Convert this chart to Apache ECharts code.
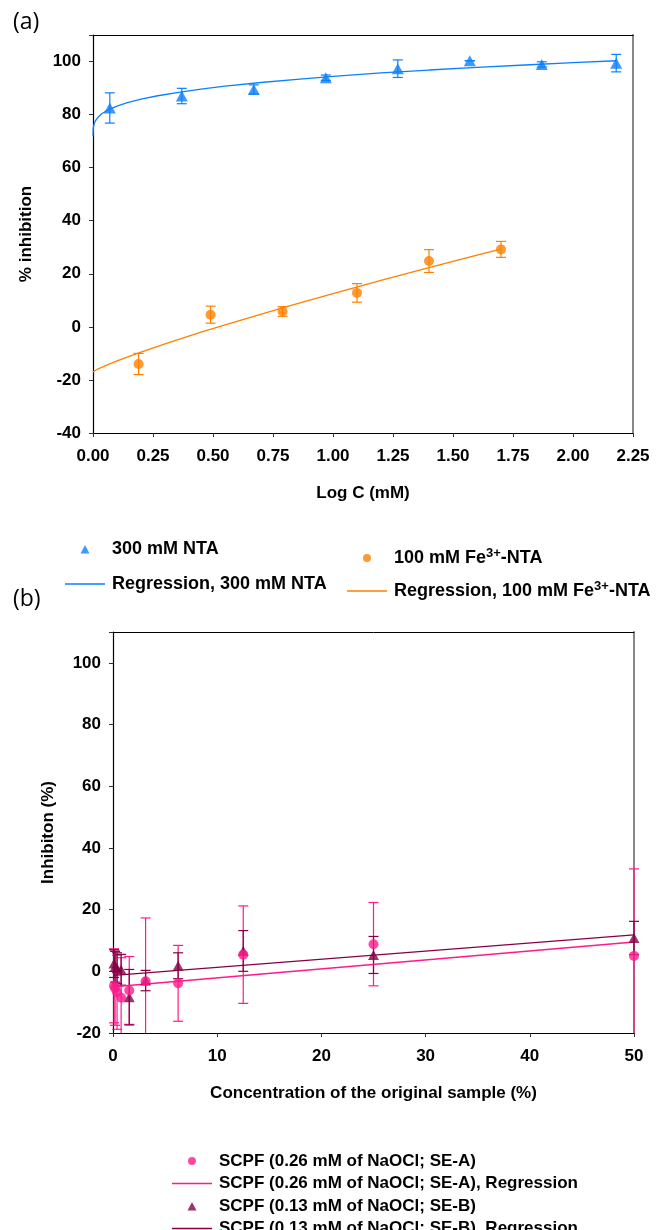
<!DOCTYPE html>
<html>
<head>
<meta charset="utf-8">
<script src="https://cdn.jsdelivr.net/npm/echarts@6/dist/echarts.min.js"></script>
<style>
  html, body { margin: 0; padding: 0; background: #fff; }
  #chart { width: 662px; height: 1230px; }
</style>
</head>
<body>
<div id="chart"></div>
<script>
// panel (a) - % inhibition vs Log C
var ntaX = [0.07, 0.37, 0.67, 0.97, 1.27, 1.57, 1.87, 2.18];
var ntaY = [82.5, 87, 89.5, 93.9, 97.3, 100.3, 98.9, 99.4];
var ntaErr = [5.7, 2.9, 1.7, 1, 3.3, 0, 1, 3.3];
// regression curve
var ntaFitX = [0, 0.001, 0.003, 0.006, 0.01, 0.02, 0.035, 0.05, 0.07, 0.1, 0.14, 0.2, 0.27, 0.35, 0.45, 0.55, 0.7, 0.85, 1.0, 1.2, 1.4, 1.6, 1.8, 2.0, 2.18];
var ntaFitY = [72, 74.8, 75.9, 76.8, 77.6, 78.9, 80.2, 81.1, 82.1, 83.2, 84.4, 85.8, 87.1, 88.3, 89.6, 90.7, 92.1, 93.3, 94.4, 95.7, 96.8, 97.8, 98.7, 99.6, 100.3];

var feX = [0.19, 0.49, 0.79, 1.1, 1.4, 1.7];
var feY = [-14, 4.6, 5.8, 12.8, 24.8, 29.2];
var feErr = [4, 3.2, 1.8, 3.5, 4.3, 3];
var feFitX = [0, 0.02, 0.05, 0.1, 0.2, 0.3, 0.45, 0.6, 0.8, 1.0, 1.2, 1.4, 1.6, 1.7];
var feFitY = [-17, -15.9, -14.7, -12.8, -9.5, -6.4, -2.0, 2.1, 7.4, 12.5, 17.5, 22.3, 27.0, 29.3];

// panel (b) - inhibition vs concentration of the original sample
var concX = [0.1, 0.2, 0.39, 0.78, 1.56, 3.13, 6.25, 12.5, 25, 50];
var seaY = [-4.7, -5.5, -6.8, -8.6, -6.2, -3.2, -3.9, 5.4, 8.8, 5];
var seaErr = [12, 12, 12, 13, 11, 20.5, 12.3, 15.8, 13.5, 28.2];
var sebY = [2.5, 1.5, 1.0, 0.5, -8.4, -3, 1.8, 6.6, 5.3, 10.8];
var sebErr = [4.5, 5, 5, 5, 9, 3.3, 4.2, 6.6, 6, 5.4];
var seaFitX = [0.1, 50];
var seaFitY = [-5, 9.5];
var sebFitX = [0.1, 50];
var sebFitY = [-1.3, 11.8];

var xTicksA = [0, 2.25, 0.25];
var yTicksA = [-40, 110, 20];
var xTicksB = [0, 50, 10];
var yTicksB = [-20, 110, 20];

var BLUE = '#0a80ff', ORANGE = '#ff8000', PINK = '#ff1a8c', MAROON = '#850045';
var FONT = '"Liberation Sans", Arial, sans-serif';
// legend icons inside a 40x10 box (leading/trailing moves keep the box size)
var ICON_LINE = 'path://M0,0M0,4.3L40,4.3L40,5.7L0,5.7ZM40,10';
var ICON_TRI = 'path://M0,0M15.5,9.5L20,1L24.5,9.5ZM40,10';
var ICON_DOT = 'path://M0,0M40,10M20,1A4,4,0,1,1,19.99,1Z';

function pairs(xs, ys) {
    return xs.map(function (x, i) { return [x, ys[i]]; });
}
function errData(xs, ys, es) {
    return xs.map(function (x, i) { return [x, ys[i] - es[i], ys[i] + es[i]]; });
}

// error bar with caps, clipped to the grid
function errRender(color) {
    return function (params, api) {
        var cs = params.coordSys;
        var lo = api.coord([api.value(0), api.value(1)]);
        var hi = api.coord([api.value(0), api.value(2)]);
        var top = cs.y, bot = cs.y + cs.height;
        var x = lo[0], w = 5;
        var y1 = Math.min(Math.max(hi[1], top), bot);
        var y2 = Math.min(Math.max(lo[1], top), bot);
        var st = { stroke: color, lineWidth: 1.2 };
        var kids = [{ type: 'line', shape: { x1: x, y1: y1, x2: x, y2: y2 }, style: st }];
        if (hi[1] >= top && hi[1] <= bot) kids.push({ type: 'line', shape: { x1: x - w, y1: hi[1], x2: x + w, y2: hi[1] }, style: st });
        if (lo[1] >= top && lo[1] <= bot) kids.push({ type: 'line', shape: { x1: x - w, y1: lo[1], x2: x + w, y2: lo[1] }, style: st });
        return { type: 'group', children: kids };
    };
}

function valAxis(idx, t, pos, fmt) {
    return {
        type: 'value', gridIndex: idx, min: t[0], max: t[1], interval: t[2], position: pos,
        axisLine: { show: true, onZero: false, lineStyle: { color: '#000', width: 1.2 } },
        axisTick: { show: true, inside: false, length: 4, lineStyle: { color: '#333' } },
        axisLabel: { color: '#000', fontFamily: FONT, fontWeight: 'bold', fontSize: 17, formatter: fmt },
        splitLine: { show: false },
        nameTextStyle: { color: '#000', fontFamily: FONT, fontWeight: 'bold', fontSize: 17 }
    };
}
function frameAxis(idx, t, pos, color, w) {
    return {
        type: 'value', gridIndex: idx, min: t[0], max: t[1], interval: t[2], position: pos,
        axisLine: { show: true, onZero: false, lineStyle: { color: color, width: w } },
        axisTick: { show: false }, axisLabel: { show: false }, splitLine: { show: false }
    };
}
function hideTop(v) { return v > 100 ? '' : v; }

var xa = valAxis(0, xTicksA, 'bottom', function (v) { return v.toFixed(2); });
xa.name = 'Log C (mM)'; xa.nameLocation = 'middle'; xa.nameGap = 52; xa.axisLabel.margin = 15;
var ya = valAxis(0, yTicksA, 'left', hideTop);
ya.name = '% inhibition'; ya.nameLocation = 'middle'; ya.nameGap = 58; ya.axisLabel.margin = 12;
var xb = valAxis(1, xTicksB, 'bottom', function (v) { return v; });
xb.name = 'Concentration of the original sample (%)'; xb.nameLocation = 'middle'; xb.nameGap = 52; xb.axisLabel.margin = 15;
var yb = valAxis(1, yTicksB, 'left', hideTop);
yb.name = 'Inhibiton (%)'; yb.nameLocation = 'middle'; yb.nameGap = 56; yb.axisLabel.margin = 12;

function legendText(size) {
    return { color: '#000', fontFamily: FONT, fontWeight: 'bold', fontSize: size, lineHeight: 20, padding: [0, 0, 0, 2],
        rich: { sup: { fontFamily: FONT, fontWeight: 'bold', fontSize: 13, padding: [0, 0, 9, 0] } } };
}

var chart = echarts.init(document.getElementById('chart'), null, { renderer: 'canvas' });
var option = {
    animation: false,
    backgroundColor: '#fff',
    title: [
        { text: '(a)', left: 8, top: 6, textStyle: { fontFamily: '"Open Sans", sans-serif', fontWeight: 'normal', fontSize: 23, color: '#000' } },
        { text: '(b)', left: 8, top: 583, textStyle: { fontFamily: '"Open Sans", sans-serif', fontWeight: 'normal', fontSize: 23, color: '#000' } }
    ],
    grid: [
        { left: 93, right: 29, top: 35, height: 398 },
        { left: 113, right: 28, top: 632, height: 401 }
    ],
    xAxis: [xa, xb, frameAxis(0, xTicksA, 'top', '#000', 1), frameAxis(1, xTicksB, 'top', '#000', 1)],
    yAxis: [ya, yb, frameAxis(0, yTicksA, 'right', '#888', 2), frameAxis(1, yTicksB, 'right', '#888', 2)],
    legend: [
        { orient: 'vertical', left: 60, top: 534, itemWidth: 40, itemHeight: 10, itemGap: 15, selectedMode: false,
          textStyle: legendText(18),
          data: [{ name: '300 mM NTA', icon: ICON_TRI }, { name: 'Regression, 300 mM NTA', icon: ICON_LINE }] },
        { orient: 'vertical', left: 342, top: 542, itemWidth: 40, itemHeight: 10, itemGap: 12, selectedMode: false,
          textStyle: legendText(18),
          data: [{ name: '100 mM Fe3+-NTA', icon: ICON_DOT }, { name: 'Regression, 100 mM Fe3+-NTA', icon: ICON_LINE }],
          formatter: function (n) { return n.replace('Fe3+', 'Fe{sup|3+}'); } },
        { orient: 'vertical', left: 167, top: 1146, height: 120, itemWidth: 40, itemHeight: 10, itemGap: 2.5, selectedMode: false,
          textStyle: legendText(17),
          data: [{ name: 'SCPF (0.26 mM of NaOCl; SE-A)', icon: ICON_DOT },
                 { name: 'SCPF (0.26 mM of NaOCl; SE-A), Regression', icon: ICON_LINE },
                 { name: 'SCPF (0.13 mM of NaOCl; SE-B)', icon: ICON_TRI },
                 { name: 'SCPF (0.13 mM of NaOCl; SE-B), Regression', icon: ICON_LINE }] }
    ],
    series: [
        { type: 'custom', name: 'errNTA', xAxisIndex: 0, yAxisIndex: 0, renderItem: errRender(BLUE),
          encode: { x: 0, y: [1, 2] }, data: errData(ntaX, ntaY, ntaErr), z: 1 },
        { type: 'line', name: 'Regression, 300 mM NTA', xAxisIndex: 0, yAxisIndex: 0,
          symbol: 'none', color: BLUE, lineStyle: { color: BLUE, width: 1.3 }, data: pairs(ntaFitX, ntaFitY), z: 2 },
        { type: 'scatter', name: '300 mM NTA', xAxisIndex: 0, yAxisIndex: 0, symbol: 'triangle', symbolSize: [12, 11],
          itemStyle: { color: BLUE }, data: pairs(ntaX, ntaY), z: 3 },
        { type: 'custom', name: 'errFe', xAxisIndex: 0, yAxisIndex: 0, renderItem: errRender(ORANGE),
          encode: { x: 0, y: [1, 2] }, data: errData(feX, feY, feErr), z: 1 },
        { type: 'line', name: 'Regression, 100 mM Fe3+-NTA', xAxisIndex: 0, yAxisIndex: 0,
          symbol: 'none', color: ORANGE, lineStyle: { color: ORANGE, width: 1.3 }, data: pairs(feFitX, feFitY), z: 2 },
        { type: 'scatter', name: '100 mM Fe3+-NTA', xAxisIndex: 0, yAxisIndex: 0, symbol: 'circle', symbolSize: 10,
          itemStyle: { color: ORANGE }, data: pairs(feX, feY), z: 3 },

        { type: 'custom', name: 'errA', xAxisIndex: 1, yAxisIndex: 1, renderItem: errRender(PINK),
          encode: { x: 0, y: [1, 2] }, data: errData(concX, seaY, seaErr), z: 1 },
        { type: 'custom', name: 'errB', xAxisIndex: 1, yAxisIndex: 1, renderItem: errRender(MAROON),
          encode: { x: 0, y: [1, 2] }, data: errData(concX, sebY, sebErr), z: 1 },
        { type: 'line', name: 'SCPF (0.26 mM of NaOCl; SE-A), Regression', xAxisIndex: 1, yAxisIndex: 1,
          symbol: 'none', color: PINK, lineStyle: { color: PINK, width: 1.3 }, data: pairs(seaFitX, seaFitY), z: 2 },
        { type: 'line', name: 'SCPF (0.13 mM of NaOCl; SE-B), Regression', xAxisIndex: 1, yAxisIndex: 1,
          symbol: 'none', color: MAROON, lineStyle: { color: MAROON, width: 1.3 }, data: pairs(sebFitX, sebFitY), z: 2 },
        { type: 'scatter', name: 'SCPF (0.13 mM of NaOCl; SE-B)', xAxisIndex: 1, yAxisIndex: 1, symbol: 'triangle',
          symbolSize: [11, 10], itemStyle: { color: MAROON }, data: pairs(concX, sebY), z: 3 },
        { type: 'scatter', name: 'SCPF (0.26 mM of NaOCl; SE-A)', xAxisIndex: 1, yAxisIndex: 1, symbol: 'circle',
          symbolSize: 10, itemStyle: { color: PINK }, data: pairs(concX, seaY), z: 3 }
    ]
};
chart.setOption(option);
</script>
</body>
</html>
